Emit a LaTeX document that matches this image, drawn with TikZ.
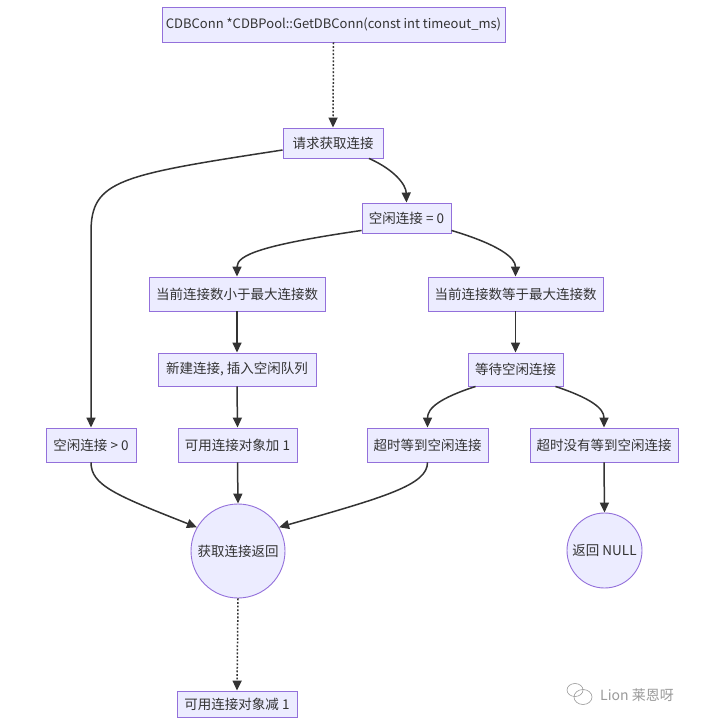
\documentclass[tikz,border=0pt]{standalone}
\usepackage{fontspec}
\setmainfont{Noto Sans CJK SC}
\usetikzlibrary{arrows.meta,calc}
\definecolor{boxfill}{HTML}{ECECFF}
\definecolor{boxline}{HTML}{9370DB}
\definecolor{edgec}{HTML}{333333}
\definecolor{txtc}{HTML}{333333}
\definecolor{wm}{HTML}{9A9A9A}
\begin{document}
\begin{tikzpicture}[x=1pt,y=-1pt,
  box/.style={draw=boxline, fill=boxfill, line width=0.9pt, inner sep=0pt, text=txtc,
    font=\fontsize{13.5}{16}\selectfont, rectangle},
  circ/.style={box, circle},
  flow/.style={draw=edgec, line width=1.5pt, -{Triangle[length=10pt,width=9pt]}},
  dots/.style={flow, dash pattern=on 1.8pt off 1.8pt}]
\fill[white] (0,0) rectangle (720,728);
\useasboundingbox (0,0) rectangle (720,728);

\node[box, minimum width=343pt, minimum height=35pt, font=\fontsize{13}{16}\selectfont] (top) at (333.5,24.5) {CDBConn *CDBPool::GetDBConn(const int timeout\_ms)};
\node[box, minimum width=100pt, minimum height=30pt] (req) at (333,143) {请求获取连接};
\node[box, minimum width=89pt, minimum height=30pt] (eq0) at (406.5,218) {空闲连接 = 0};
\node[box, minimum width=176pt, minimum height=34pt] (lt) at (237,294) {当前连接数小于最大连接数};
\node[box, minimum width=175pt, minimum height=34pt] (ge) at (515.5,294) {当前连接数等于最大连接数};
\node[box, minimum width=158pt, minimum height=33pt] (new) at (237,369.5) {新建连接, 插入空闲队列};
\node[box, minimum width=95pt, minimum height=33pt] (wait) at (515.5,369.5) {等待空闲连接};
\node[box, minimum width=90pt, minimum height=34pt] (gt0) at (91,445) {空闲连接 > 0};
\node[box, minimum width=119pt, minimum height=34pt] (add1) at (237.5,445) {可用连接对象加 1};
\node[box, minimum width=121pt, minimum height=34pt] (tok) at (427.5,445) {超时等到空闲连接};
\node[box, minimum width=148pt, minimum height=34pt] (tno) at (604,445) {超时没有等到空闲连接};
\node[circ, minimum size=94pt] (ret) at (238,551) {获取连接返回};
\node[circ, minimum size=75pt] (null) at (604.5,550.5) {返回 NULL};
\node[box, minimum width=120pt, minimum height=26pt] (dec) at (237,704) {可用连接对象减 1};

\draw[dots] (top.south) -- (req.north);
\draw[flow] ($(req.west)+(0,7)$) .. controls (120,175) and (91,180) .. (91,232) -- (gt0.north);
\draw[flow] ($(req.south)+(36,0)$) .. controls (395,170) and (406,185) .. (eq0.north);
\draw[flow] ($(eq0.south west)+(0,-3)$) .. controls (262,245) and (237,255) .. (lt.north);
\draw[flow] ($(eq0.south east)+(0,-3)$) .. controls (500,245) and (515.5,258) .. (ge.north);
\draw[flow] (lt.south) -- (new.north);
\draw[flow] (new.south) -- (add1.north);
\draw[flow] (ge.south) -- (wait.north);
\draw[flow] ($(wait.south west)+(8,0)$) .. controls (440,398) and (427.5,408) .. (tok.north);
\draw[flow] ($(wait.south east)+(-8,0)$) .. controls (590,398) and (604,408) .. (tno.north);
\draw[flow] (tno.south) -- (null.north);
\draw[flow] (add1.south) -- (ret.north);
\draw[flow] (gt0.south) .. controls (91,485) and (115,495) .. (ret.150);
\draw[flow] (tok.south) .. controls (427.5,485) and (385,497) .. (ret.30);
\draw[dots] (ret.south) -- (dec.north);

% watermark
\begin{scope}[draw=wm, line width=0.6pt]
\draw (575,690) ellipse (8pt and 6.5pt);
\draw (583,697) ellipse (9pt and 7.5pt);
\end{scope}
\node[text=wm, font=\fontsize{14}{16}\selectfont, anchor=west, inner sep=0pt] (wmtext) at (600,695) {Lion 莱恩呀};
\end{tikzpicture}
\end{document}
